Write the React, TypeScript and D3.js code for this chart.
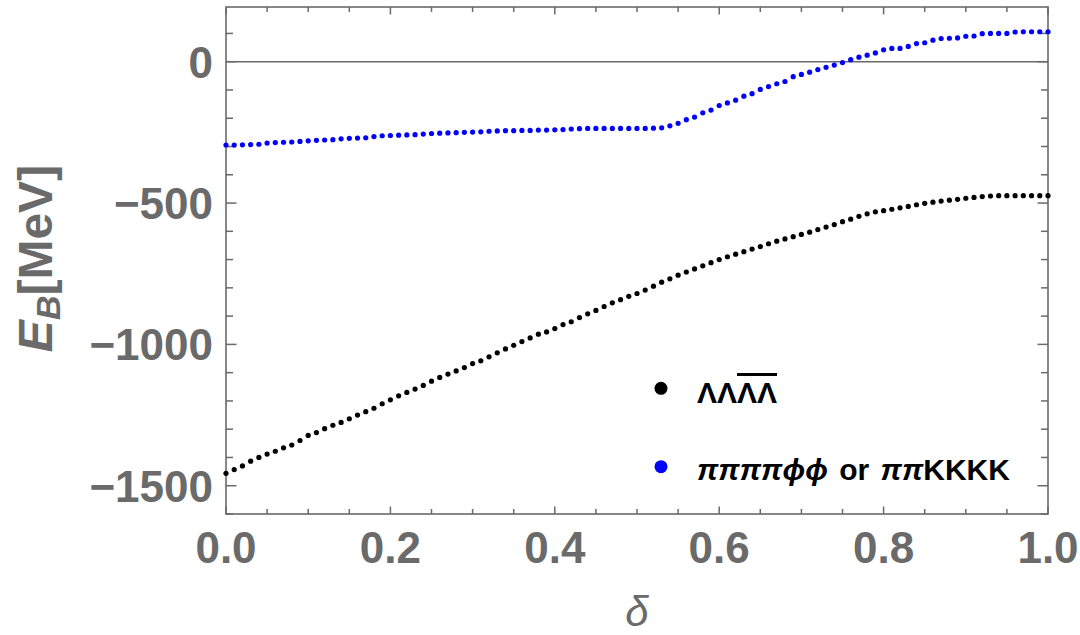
import React from "react";
import * as d3 from "d3";

const deltas: number[] = d3.range(0, 101).map((i) => i / 100);

const lambdaSeries: number[] = [
  -1456, -1443, -1430, -1413, -1400, -1388, -1378, -1366, -1356, -1340,
  -1322, -1312, -1298, -1286, -1276, -1263, -1250, -1238, -1226, -1210,
  -1196, -1182, -1170, -1158, -1145, -1130, -1117, -1105, -1094, -1082,
  -1068, -1058, -1044, -1030, -1016, -1003, -990, -977, -964, -956,
  -944, -930, -920, -905, -892, -880, -866, -853, -842, -830,
  -820, -808, -794, -780, -768, -755, -744, -733, -722, -711,
  -700, -690, -681, -672, -663, -654, -644, -635, -627, -619,
  -611, -603, -594, -585, -576, -566, -557, -547, -538, -531,
  -527, -522, -517, -512, -506, -501, -497, -493, -490, -487,
  -483, -480, -477, -475, -474, -474, -474, -474, -474, -474, -474,
];

const piSeries: number[] = [
  -295, -295, -294, -293, -292, -288, -286, -285, -284, -282,
  -280, -278, -277, -276, -273, -271, -270, -269, -265, -262,
  -261, -260, -259, -258, -256, -254, -253, -252, -251, -250,
  -249, -248, -246, -245, -244, -244, -243, -243, -242, -242,
  -241, -240, -238, -237, -236, -236, -236, -236, -236, -236,
  -236, -236, -235, -234, -227, -218, -205, -196, -181, -171,
  -155, -146, -136, -122, -113, -98, -88, -78, -70, -53,
  -45, -37, -28, -20, -12, -3, 7, 16, 23, 31,
  42, 47, 47, 54, 64, 67, 76, 82, 83, 84,
  90, 91, 99, 100, 100, 100, 105, 106, 106, 106, 106,
];

const xMajorTicks: number[] = [0, 0.2, 0.4, 0.6, 0.8, 1.0];
const xMajorLabels: string[] = ["0.0", "0.2", "0.4", "0.6", "0.8", "1.0"];
const xMinorTicks: number[] = d3.range(0, 21).map((i) => i * 0.05).filter((v) => Math.abs(v * 5 - Math.round(v * 5)) > 1e-6);
const yMajorTicks: number[] = [-1500, -1000, -500, 0];
const yMajorLabels: string[] = ["\u22121500", "\u22121000", "\u2212500", "0"];
const yMinorTicks: number[] = [-1600, -1400, -1300, -1200, -1100, -900, -800, -700, -600, -400, -300, -200, -100, 100];

const left = 226, right = 1048, top = 7, bottom = 514;
const gray = "#6a6a6a";
const font = "'Liberation Sans', Arial, sans-serif";

export default function App() {
  const x = d3.scaleLinear().domain([0, 1]).range([left, right]);
  const y = d3.scaleLinear().domain([-1600, 193.5]).range([bottom, top]);

  return (
    <svg width={1080} height={635} style={{ position: "absolute", left: 0, top: 0, background: "#fff" }}>
      <rect x={0} y={0} width={1080} height={635} fill="#fff" />
      {/* zero line */}
      <line x1={left} x2={right} y1={y(0)} y2={y(0)} stroke={gray} strokeWidth={1.6} />
      {/* ticks */}
      <g stroke={gray} strokeWidth={1.5}>
        {xMajorTicks.map((t, i) => (
          <g key={"xm" + i}>
            <line x1={x(t)} x2={x(t)} y1={bottom} y2={bottom - 7.5} />
            <line x1={x(t)} x2={x(t)} y1={top} y2={top + 7.5} />
          </g>
        ))}
        {xMinorTicks.map((t, i) => (
          <g key={"xn" + i}>
            <line x1={x(t)} x2={x(t)} y1={bottom} y2={bottom - 5} />
            <line x1={x(t)} x2={x(t)} y1={top} y2={top + 5} />
          </g>
        ))}
        {yMajorTicks.map((t, i) => (
          <g key={"ym" + i}>
            <line x1={left} x2={left + 10.5} y1={y(t)} y2={y(t)} />
            <line x1={right} x2={right - 10.5} y1={y(t)} y2={y(t)} />
          </g>
        ))}
        {yMinorTicks.map((t, i) => (
          <g key={"yn" + i}>
            <line x1={left} x2={left + 7} y1={y(t)} y2={y(t)} />
            <line x1={right} x2={right - 7} y1={y(t)} y2={y(t)} />
          </g>
        ))}
      </g>
      {/* frame */}
      <rect x={left} y={top} width={right - left} height={bottom - top} fill="none" stroke={gray} strokeWidth={1.6} />
      {/* data */}
      <g fill="#000">
        {lambdaSeries.map((v, i) => (
          <circle key={"l" + i} cx={x(deltas[i])} cy={y(v)} r={2.6} />
        ))}
      </g>
      <g fill="#0000ff">
        {piSeries.map((v, i) => (
          <circle key={"p" + i} cx={x(deltas[i])} cy={y(v)} r={2.6} />
        ))}
      </g>
      {/* tick labels */}
      <g fill={gray} fontFamily={font} fontWeight="bold" fontSize={44}>
        {xMajorTicks.map((t, i) => (
          <text key={"xl" + i} x={x(t)} y={563} textAnchor="middle">{xMajorLabels[i]}</text>
        ))}
        {yMajorTicks.map((t, i) => (
          <text key={"yl" + i} x={213} y={y(t) + 16} textAnchor="end">{yMajorLabels[i]}</text>
        ))}
      </g>
      {/* axis labels */}
      <text x={637} y={626} textAnchor="middle" fill={gray} fontFamily={font} fontSize={42} fontStyle="italic">δ</text>
      <text transform="translate(52,258.5) rotate(-90)" textAnchor="middle" fill={gray} fontFamily={font} fontWeight="bold" fontSize={48}>
        <tspan fontStyle="italic">E</tspan>
        <tspan fontStyle="italic" fontSize={34} dy={8}>B</tspan>
        <tspan dy={-8}>[MeV]</tspan>
      </text>
      {/* legend */}
      <circle cx={661} cy={388.3} r={6.5} fill="#000" />
      <circle cx={661} cy={466.7} r={6.5} fill="#0000ff" />
      <g fontFamily={font} fontWeight="bold" fontSize={30} fill="#000">
        <text x={697} y={403}>
          ΛΛ<tspan style={{ textDecoration: "overline", textDecorationThickness: "1.5px", textDecorationColor: "#444" }}>ΛΛ</tspan>
        </text>
        <text x={697} y={480} style={{ wordSpacing: "3px" }}>
          <tspan fontStyle="italic">ππππϕϕ</tspan> or <tspan fontStyle="italic">ππ</tspan>KKKK
        </text>
      </g>
    </svg>
  );
}
